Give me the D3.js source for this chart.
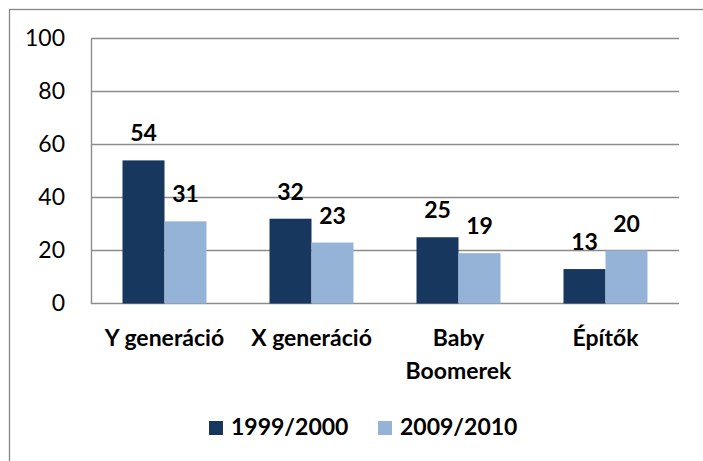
<!DOCTYPE html>
<html>
<head>
<meta charset="utf-8">
<script src="https://cdn.jsdelivr.net/npm/d3@7"></script>
<style>
  body { margin: 0; background: #fff; }
  svg text { font-family: Lato, "Open Sans", sans-serif; fill: #000; }
</style>
</head>
<body>
<svg id="chart" width="703" height="461"></svg>
<script>
// chart data
var categories = ["Y generáció", "X generáció", "Baby Boomerek", "Építők"];
var categoryLines = [["Y generáció"], ["X generáció"], ["Baby", "Boomerek"], ["Építők"]];
var series = ["1999/2000", "2009/2010"];
var values1999 = [54, 32, 25, 13];
var values2009 = [31, 23, 19, 20];
var yTicks = [0, 20, 40, 60, 80, 100];
var colors = ["#17375e", "#95b3d7"];

var svg = d3.select("#chart");

// outer frame (right/bottom edges fall outside the picture)
svg.append("rect")
  .attr("x", 9.5).attr("y", 9.5)
  .attr("width", 720).attr("height", 480)
  .attr("fill", "none")
  .attr("stroke", "#868686")
  .attr("stroke-width", 1.3);

// plot area bounds
var plotLeft = 91, plotRight = 679, plotTop = 38.5, plotBottom = 303.5;

var y = d3.scaleLinear().domain([0, 100]).range([plotBottom, plotTop]);
var x0 = d3.scaleBand().domain(categories).range([plotLeft, plotRight]).padding(0);
var x1 = d3.scaleBand().domain(series).range([0, x0.bandwidth()]).paddingInner(0).paddingOuter(0.75);

// gridlines
svg.append("g").selectAll("line")
  .data(yTicks)
  .enter().append("line")
  .attr("x1", plotLeft).attr("x2", plotRight)
  .attr("y1", function(d) { return y(d); })
  .attr("y2", function(d) { return y(d); })
  .attr("stroke", "#8c8c8c")
  .attr("stroke-width", 1.4);

// y axis labels
var yAxis = d3.axisLeft(y).tickValues(yTicks).tickSize(0).tickPadding(26);
var ya = svg.append("g").attr("transform", "translate(" + plotLeft + ",0)").call(yAxis);
ya.select(".domain").attr("stroke", "#8c8c8c").attr("stroke-width", 1.4);
ya.selectAll("text")
  .attr("font-size", 23)
  .style("font-family", "Lato, sans-serif");

// bars
var rows = categories.map(function(c, i) {
  return { cat: c, vals: [values1999[i], values2009[i]] };
});

var groups = svg.append("g").selectAll("g")
  .data(rows)
  .enter().append("g")
  .attr("transform", function(d) { return "translate(" + x0(d.cat) + ",0)"; });

groups.selectAll("rect")
  .data(function(d) { return d.vals.map(function(v, j) { return { s: series[j], v: v, j: j }; }); })
  .enter().append("rect")
  .attr("x", function(d) { return x1(d.s); })
  .attr("width", x1.bandwidth())
  .attr("y", function(d) { return y(d.v); })
  .attr("height", function(d) { return y(0) - y(d.v); })
  .attr("fill", function(d) { return colors[d.j]; });

groups.selectAll("text")
  .data(function(d) { return d.vals.map(function(v, j) { return { s: series[j], v: v }; }); })
  .enter().append("text")
  .attr("x", function(d) { return x1(d.s) + x1.bandwidth() / 2; })
  .attr("y", function(d) { return y(d.v) - 19; })
  .attr("text-anchor", "middle")
  .attr("font-size", 23)
  .attr("font-weight", "bold")
  .text(function(d) { return d.v; });

// x labels
var xl = svg.append("g").selectAll("text")
  .data(categories)
  .enter().append("text")
  .attr("text-anchor", "middle")
  .attr("font-size", 23)
  .attr("font-weight", "bold")
  .attr("x", function(d) { return x0(d) + x0.bandwidth() / 2; })
  .attr("y", 346);

xl.selectAll("tspan")
  .data(function(d, i) { return categoryLines[i]; })
  .enter().append("tspan")
  .attr("x", function() { return this.parentNode.getAttribute("x"); })
  .attr("dy", function(d, i) { return i === 0 ? 0 : 33; })
  .text(function(d) { return d; });

// legend
var legendX = [209, 378];
var legend = svg.append("g").selectAll("g")
  .data(series)
  .enter().append("g")
  .attr("transform", function(d, i) { return "translate(" + legendX[i] + ",421)"; });

legend.append("rect")
  .attr("width", 14).attr("height", 14)
  .attr("fill", function(d, i) { return colors[i]; });

legend.append("text")
  .attr("x", 22).attr("y", 14)
  .attr("font-size", 23)
  .attr("font-weight", "bold")
  .text(function(d) { return d; });
</script>
</body>
</html>
